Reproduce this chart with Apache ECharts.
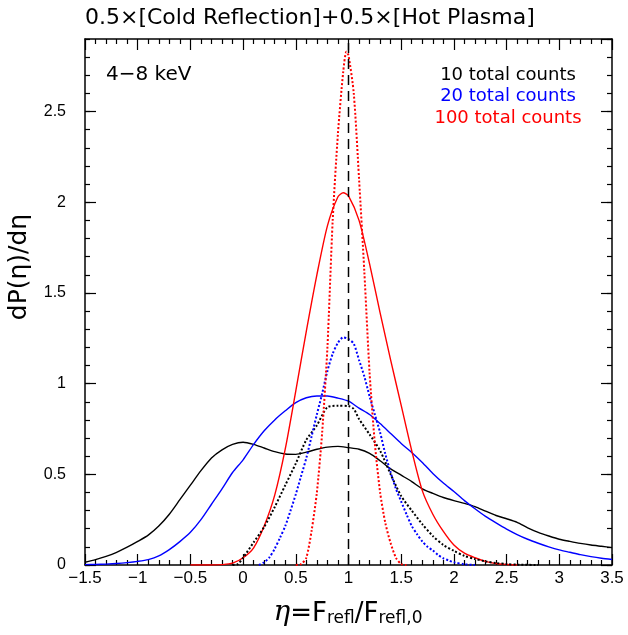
<!DOCTYPE html>
<html>
<head>
<meta charset="utf-8">
<script src="https://cdn.jsdelivr.net/npm/echarts@6/dist/echarts.min.js"></script>
<style>html,body{margin:0;padding:0;background:#fff}#c{width:628px;height:635px}</style>
</head>
<body>
<div id="c"></div>
<script>
// ---- data (eta, dP/deta) ----
var black10Solid = [[-1.5,0.015],[-1.4,0.03],[-1.3,0.048],[-1.2,0.07],[-1.1,0.098],[-1.0,0.13],[-0.9,0.165],[-0.8,0.215],[-0.7,0.28],[-0.6,0.36],[-0.5,0.44],[-0.4,0.52],[-0.3,0.59],[-0.2,0.635],[-0.1,0.665],[0.0,0.677],[0.1,0.665],[0.2,0.645],[0.3,0.625],[0.4,0.612],[0.5,0.61],[0.6,0.622],[0.7,0.638],[0.8,0.65],[0.9,0.654],[1.0,0.647],[1.1,0.638],[1.2,0.615],[1.3,0.575],[1.4,0.53],[1.5,0.495],[1.6,0.46],[1.7,0.42],[1.8,0.395],[1.9,0.372],[2.0,0.355],[2.1,0.34],[2.2,0.322],[2.3,0.297],[2.4,0.273],[2.5,0.255],[2.6,0.235],[2.7,0.205],[2.8,0.18],[2.9,0.16],[3.0,0.142],[3.1,0.13],[3.2,0.119],[3.3,0.11],[3.4,0.103],[3.5,0.096]];
var blue20Solid = [[-1.5,0.002],[-1.4,0.003],[-1.3,0.005],[-1.2,0.008],[-1.1,0.013],[-1.0,0.02],[-0.9,0.03],[-0.8,0.05],[-0.7,0.085],[-0.6,0.129],[-0.5,0.18],[-0.4,0.25],[-0.3,0.335],[-0.2,0.42],[-0.1,0.51],[0.0,0.58],[0.1,0.665],[0.2,0.74],[0.3,0.8],[0.4,0.85],[0.5,0.895],[0.6,0.922],[0.7,0.932],[0.8,0.932],[0.9,0.92],[1.0,0.903],[1.1,0.865],[1.2,0.83],[1.3,0.78],[1.4,0.725],[1.5,0.67],[1.6,0.62],[1.7,0.565],[1.8,0.505],[1.9,0.452],[2.0,0.405],[2.1,0.355],[2.2,0.31],[2.3,0.268],[2.4,0.232],[2.5,0.198],[2.6,0.168],[2.7,0.142],[2.8,0.12],[2.9,0.1],[3.0,0.083],[3.1,0.07],[3.2,0.057],[3.3,0.046],[3.4,0.037],[3.5,0.03]];
var red100Solid = [[-0.5,0],[-0.3,0],[-0.2,0.002],[-0.1,0.01],[0.0,0.04],[0.1,0.095],[0.2,0.215],[0.3,0.385],[0.4,0.64],[0.5,0.96],[0.6,1.29],[0.7,1.6],[0.8,1.87],[0.9,2.03],[0.95,2.052],[1.0,2.035],[1.1,1.9],[1.2,1.66],[1.3,1.39],[1.4,1.13],[1.5,0.88],[1.6,0.63],[1.7,0.41],[1.8,0.28],[1.9,0.185],[2.0,0.11],[2.1,0.065],[2.2,0.04],[2.3,0.02],[2.4,0.008],[2.5,0.003],[2.6,0]];
var black10Dotted = [[-0.1,0],[-0.05,0.005],[0.0,0.04],[0.1,0.125],[0.2,0.21],[0.3,0.32],[0.4,0.44],[0.5,0.56],[0.6,0.69],[0.7,0.77],[0.8,0.87],[0.9,0.878],[1.0,0.876],[1.05,0.86],[1.1,0.805],[1.2,0.72],[1.3,0.63],[1.4,0.5],[1.5,0.38],[1.6,0.3],[1.7,0.225],[1.8,0.16],[1.9,0.11],[2.0,0.078],[2.1,0.05],[2.2,0.033],[2.3,0.02],[2.4,0.011],[2.5,0.005],[2.6,0.002],[2.8,0]];
var blue20Dotted = [[0.15,0],[0.2,0.015],[0.25,0.042],[0.3,0.09],[0.35,0.15],[0.4,0.215],[0.45,0.3],[0.5,0.39],[0.55,0.49],[0.6,0.59],[0.65,0.71],[0.7,0.83],[0.75,0.945],[0.8,1.07],[0.85,1.165],[0.9,1.225],[0.95,1.255],[1.0,1.245],[1.05,1.22],[1.1,1.13],[1.15,1.04],[1.2,0.93],[1.25,0.83],[1.3,0.73],[1.35,0.61],[1.4,0.51],[1.45,0.42],[1.5,0.35],[1.55,0.28],[1.6,0.215],[1.65,0.17],[1.7,0.13],[1.75,0.1],[1.8,0.08],[1.85,0.055],[1.9,0.037],[1.95,0.025],[2.0,0.015],[2.1,0.004],[2.2,0]];
var red100Dotted = [[0.5,0],[0.55,0.005],[0.6,0.04],[0.65,0.19],[0.7,0.4],[0.75,0.73],[0.8,1.2],[0.85,1.9],[0.9,2.38],[0.95,2.72],[0.98,2.83],[1.0,2.81],[1.05,2.6],[1.1,2.13],[1.15,1.62],[1.2,1.06],[1.25,0.67],[1.3,0.4],[1.35,0.23],[1.4,0.12],[1.45,0.04],[1.5,0.005],[1.55,0]];
var refLine = [[1,0],[1,2.9]];

var xMin = -1.5, xMax = 3.5, xStep = 0.5;
var yMin = 0, yMax = 2.9, yStep = 0.5, yMinorStep = 0.1;

var titleText = '0.5×[Cold Reflection]+0.5×[Hot Plasma]';
var bandText = '4−8 keV';
var legendTexts = ['10 total counts', '20 total counts', '100 total counts'];
var legendColors = ['#000000', '#0000ff', '#ff0000'];

// ---- chart ----
var chart = echarts.init(document.getElementById('c'), null, {renderer: 'canvas'});
function fmt(v) {
  var r = Math.round(v / 0.5) * 0.5;
  if (Math.abs(v - r) > 1e-6) return '';
  var s = String(Math.round(r * 10) / 10);
  return s.replace('-', '−');
}
var tickFont = {fontFamily: 'Liberation Sans', fontSize: 16, color: '#000'};
var axLine = {show: true, onZero: false, lineStyle: {color: '#000', width: 1.5}};
function xAx(pos, labels) {
  return {type: 'value', position: pos, min: xMin, max: xMax, interval: xStep,
    axisLine: axLine, splitLine: {show: false},
    axisTick: {show: true, inside: true, length: 11, lineStyle: {color: '#000', width: 1.2}},
    minorTick: {show: true, splitNumber: 5, length: 5, lineStyle: {color: '#000', width: 1.2}},
    axisLabel: Object.assign({show: labels, margin: 5, formatter: fmt}, tickFont, {fontSize: 17})};
}
function yAx(pos, step, len, labels, line) {
  return {type: 'value', position: pos, min: yMin, max: yMax, interval: step,
    axisLine: line ? axLine : {show: false, onZero: false}, splitLine: {show: false},
    axisTick: {show: true, inside: true, length: len, lineStyle: {color: '#000', width: 1.2}},
    axisLabel: Object.assign({show: labels, margin: 19, formatter: fmt, showMaxLabel: false}, tickFont)};
}
function ser(data, color, dotted) {
  return {type: 'line', data: data, xAxisIndex: 0, yAxisIndex: 0, showSymbol: false, symbol: 'none',
    silent: true, animation: false, z: 1, smooth: 0.25,
    lineStyle: {color: color, width: dotted ? 2 : 1.4, type: dotted ? [2, 2] : 'solid'}};
}
var series = [
  ser(black10Solid, '#000000', false),
  ser(blue20Solid, '#0000ff', false),
  ser(red100Solid, '#ff0000', false),
  ser(black10Dotted, '#000000', true),
  ser(blue20Dotted, '#0000ff', true),
  ser(red100Dotted, '#ff0000', true),
  {type: 'line', data: refLine, showSymbol: false, symbol: 'none', silent: true, animation: false, z: 1,
   lineStyle: {color: '#000', width: 1.5, type: [10, 6]}}
];
var graphics = [
  {type: 'text', x: 85, y: 18, style: {text: titleText, font: '22px "DejaVu Sans"', fill: '#000', textAlign: 'left', textVerticalAlign: 'middle'}},
  {type: 'text', x: 106, y: 75, style: {text: bandText, font: '20px "DejaVu Sans"', fill: '#000', textAlign: 'left', textVerticalAlign: 'middle'}},
  {type: 'text', x: 19, y: 267, rotation: Math.PI / 2,
   style: {text: 'dP(η)/dη', font: '25px "DejaVu Sans"', fill: '#000', textAlign: 'center', textVerticalAlign: 'middle'}},
  {type: 'text', x: 348, y: 614,
   style: {text: '{e|η}{m|=F}{s|refl}{m|/F}{s|refl,0}', textAlign: 'center', textVerticalAlign: 'middle',
     rich: {e: {font: 'italic 28px "DejaVu Serif"', fill: '#000', verticalAlign: 'bottom', lineHeight: 26},
            m: {font: '26px "DejaVu Sans"', fill: '#000', verticalAlign: 'bottom', lineHeight: 26},
            s: {font: '17px "DejaVu Sans"', fill: '#000', verticalAlign: 'bottom', lineHeight: 14}}}}
];
for (var i = 0; i < legendTexts.length; i++) {
  graphics.push({type: 'text', x: 508, y: 75 + i * 21.5,
    style: {text: legendTexts[i], font: '18px "DejaVu Sans"', fill: legendColors[i], textAlign: 'center', textVerticalAlign: 'middle'}});
}
chart.setOption({
  animation: false,
  backgroundColor: '#fff',
  grid: {left: 85, right: 16, top: 39, bottom: 70},
  xAxis: [xAx('bottom', true), xAx('top', false)],
  yAxis: [yAx('left', yStep, 11, true, true), yAx('left', yMinorStep, 5, false, false),
          yAx('right', yStep, 11, false, true), yAx('right', yMinorStep, 5, false, false)],
  series: series,
  graphic: graphics
});
</script>
</body>
</html>
